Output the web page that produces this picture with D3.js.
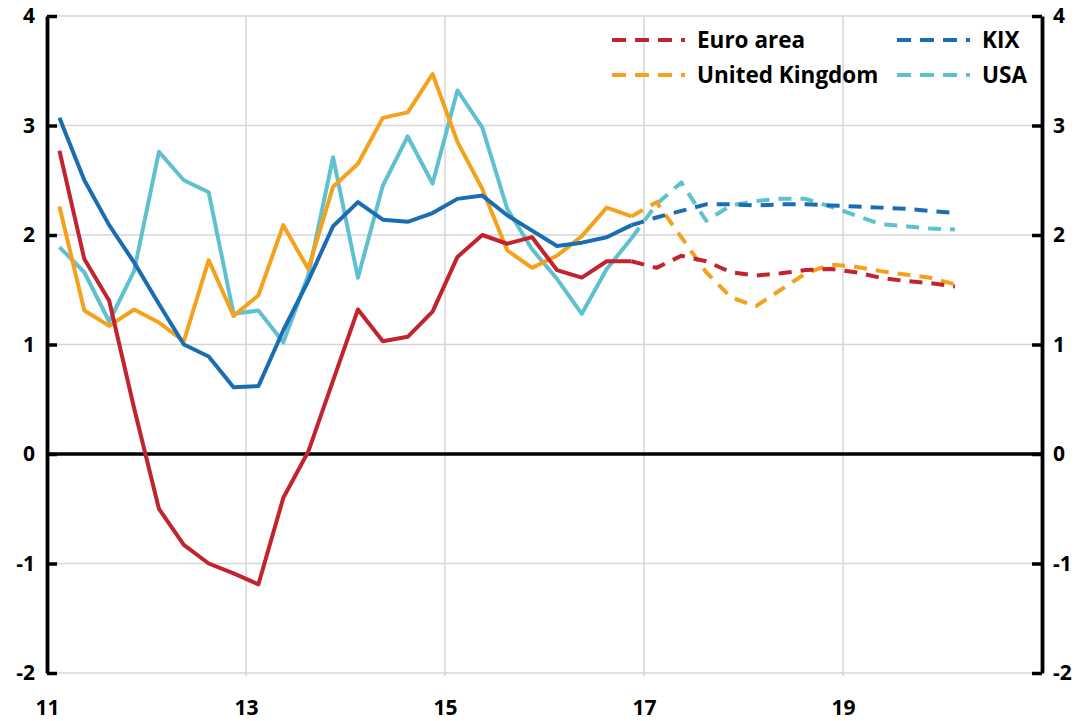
<!DOCTYPE html>
<html>
<head>
<meta charset="utf-8">
<script src="https://cdn.jsdelivr.net/npm/d3@7"></script>
<style>
  html, body { margin: 0; padding: 0; background: #fff; }
  svg { display: block; }
  text { font-family: "Open Sans", Lato, sans-serif; font-weight: 700; fill: #000; }
</style>
</head>
<body>
<svg id="chart" width="1080" height="721"></svg>
<script>
// Quarterly periods: outturns through 2016Q4, projections afterwards
const periods = [
  "2011Q1","2011Q2","2011Q3","2011Q4","2012Q1","2012Q2","2012Q3","2012Q4",
  "2013Q1","2013Q2","2013Q3","2013Q4","2014Q1","2014Q2","2014Q3","2014Q4",
  "2015Q1","2015Q2","2015Q3","2015Q4","2016Q1","2016Q2","2016Q3","2016Q4",
  "2017Q1","2017Q2","2017Q3","2017Q4","2018Q1","2018Q2","2018Q3","2018Q4",
  "2019Q1","2019Q2","2019Q3","2019Q4","2020Q1"
];
const lastOutcome = "2016Q4";

const euroArea = [
  2.77, 1.78, 1.40, 0.42, -0.50, -0.83, -1.00, -1.09,
  -1.19, -0.40, 0.02, 0.67, 1.32, 1.03, 1.07, 1.30,
  1.80, 2.00, 1.92, 1.98, 1.68, 1.61, 1.76, 1.76,
  1.70, 1.81, 1.76, 1.66, 1.63, 1.65, 1.68, 1.69,
  1.66, 1.61, 1.58, 1.56, 1.53
];
const unitedKingdom = [
  2.26, 1.31, 1.17, 1.32, 1.20, 1.03, 1.77, 1.26,
  1.45, 2.09, 1.69, 2.44, 2.65, 3.07, 3.12, 3.47,
  2.85, 2.42, 1.86, 1.70, 1.81, 1.99, 2.25, 2.17,
  2.30, 1.98, 1.66, 1.43, 1.35, 1.50, 1.65, 1.73,
  1.71, 1.67, 1.64, 1.61, 1.55
];
const kix = [
  3.07, 2.50, 2.09, 1.75, 1.37, 1.00, 0.89, 0.61,
  0.62, 1.13, 1.58, 2.08, 2.30, 2.14, 2.12, 2.20,
  2.33, 2.36, 2.18, 2.04, 1.90, 1.93, 1.98, 2.09,
  2.16, 2.22, 2.28, 2.28, 2.27, 2.28, 2.28, 2.27,
  2.26, 2.25, 2.24, 2.22, 2.20
];
const usa = [
  1.89, 1.66, 1.21, 1.67, 2.76, 2.50, 2.39, 1.28,
  1.31, 1.02, 1.63, 2.71, 1.61, 2.45, 2.90, 2.47,
  3.32, 2.98, 2.24, 1.87, 1.60, 1.28, 1.69, 1.97,
  2.28, 2.48, 2.13, 2.27, 2.31, 2.33, 2.33, 2.26,
  2.18, 2.10, 2.08, 2.06, 2.05
];

const xTicks = [11, 13, 15, 17, 19];
const yTicks = [-2, -1, 0, 1, 2, 3, 4];

const series = [
  { name: "USA",            values: usa,           color: "#5fc1cf" },
  { name: "United Kingdom", values: unitedKingdom, color: "#f4a21d" },
  { name: "KIX",            values: kix,           color: "#1b6db3" },
  { name: "Euro area",      values: euroArea,      color: "#c1232f" }
];

// period "2011Q1" -> mid-quarter position on a two-digit year axis
function periodToX(p) {
  const yr = +p.slice(0, 4) - 2000;
  const q = +p.slice(5);
  return yr + (q - 1) * 0.25 + 0.125;
}

const svg = d3.select("#chart");
const plot = { left: 47, right: 1042, top: 16, bottom: 673 };

const x = d3.scaleLinear().domain([11, 21]).range([plot.left, plot.right]);
const y = d3.scaleLinear().domain([-2, 4]).range([plot.bottom, plot.top]);

// grid
const grid = svg.append("g");
grid.selectAll(".hg").data(yTicks.filter(d => d !== 0)).join("line")
  .attr("x1", plot.left).attr("x2", plot.right)
  .attr("y1", d => y(d)).attr("y2", d => y(d))
  .attr("stroke", "#d6d6d6").attr("stroke-width", 1.5);
grid.selectAll(".vg").data(xTicks.filter(d => d !== 11)).join("line")
  .attr("x1", d => x(d)).attr("x2", d => x(d))
  .attr("y1", plot.top).attr("y2", plot.bottom + 3)
  .attr("stroke", "#d6d6d6").attr("stroke-width", 1.5);

// zero line
svg.append("line")
  .attr("x1", plot.left).attr("x2", plot.right)
  .attr("y1", y(0)).attr("y2", y(0))
  .attr("stroke", "#000").attr("stroke-width", 3.5);

// axes (plain hyphen for negative labels)
const fmt = d => String(d);
const leftAxis = svg.append("g").attr("transform", `translate(${plot.left},0)`)
  .call(d3.axisLeft(y).tickValues(yTicks).tickFormat(fmt).tickSizeInner(-10).tickSizeOuter(0).tickPadding(12));
const rightAxis = svg.append("g").attr("transform", `translate(${plot.right},0)`)
  .call(d3.axisRight(y).tickValues(yTicks).tickFormat(fmt).tickSizeInner(-10).tickSizeOuter(0).tickPadding(11));
const bottomAxis = svg.append("g").attr("transform", `translate(0,${plot.bottom})`)
  .call(d3.axisBottom(x).tickValues(xTicks).tickFormat(fmt).tickSize(0).tickPadding(27));
bottomAxis.select(".domain").remove();

[leftAxis, rightAxis, bottomAxis].forEach(g => {
  g.selectAll(".domain").attr("stroke", "#000").attr("stroke-width", 3.8);
  g.selectAll(".tick line").attr("stroke", "#000").attr("stroke-width", 3.5);
  g.selectAll("text").attr("font-size", 21).attr("font-family", "'Open Sans', sans-serif").attr("font-weight", 700).attr("fill", "#000");
});

// lines: solid outturns, dashed projections
const cut = periods.indexOf(lastOutcome);
const line = d3.line().x(d => x(periodToX(d.p))).y(d => y(d.v));
const lines = svg.append("g");
series.forEach(s => {
  const pts = periods.map((p, i) => ({ p, v: s.values[i] }));
  lines.append("path")
    .attr("d", line(pts.slice(0, cut + 1)))
    .attr("fill", "none").attr("stroke", s.color)
    .attr("stroke-width", 4).attr("stroke-linejoin", "round");
  lines.append("path")
    .attr("d", line(pts.slice(cut)))
    .attr("fill", "none").attr("stroke", s.color)
    .attr("stroke-width", 4).attr("stroke-dasharray", "13,9")
    .attr("stroke-linejoin", "round");
});

// legend
const legendItems = [
  { name: "Euro area",      color: "#c1232f", lx: 612, ly: 40 },
  { name: "United Kingdom", color: "#f4a21d", lx: 612, ly: 75 },
  { name: "KIX",            color: "#1b6db3", lx: 897, ly: 40 },
  { name: "USA",            color: "#5fc1cf", lx: 897, ly: 75 }
];
const legend = svg.append("g");
legendItems.forEach(d => {
  legend.append("line")
    .attr("x1", d.lx).attr("x2", d.lx + 73)
    .attr("y1", d.ly).attr("y2", d.ly)
    .attr("stroke", d.color).attr("stroke-width", 4)
    .attr("stroke-dasharray", "14,9");
  legend.append("text")
    .attr("x", d.lx + 85).attr("y", d.ly).attr("dy", "0.36em")
    .attr("font-size", 22.5).text(d.name);
});
</script>
</body>
</html>
